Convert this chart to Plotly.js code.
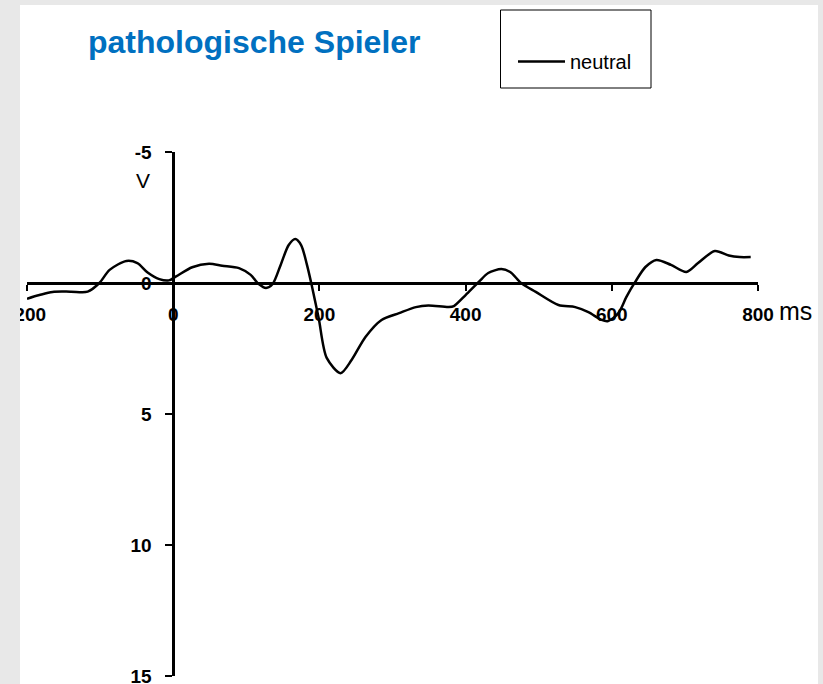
<!DOCTYPE html>
<html>
<head>
<meta charset="utf-8">
<script src="https://cdn.plot.ly/plotly-3.0.1.min.js"></script>
<style>
  html, body { margin: 0; padding: 0; background: #ffffff; }
  #chart { width: 823px; height: 684px; }
</style>
</head>
<body>
<div id="chart"></div>
<script>
// ---- data ----
const seriesName = "neutral";
const timeMs = [-200, -183, -165, -140, -117, -101, -87, -64, -49, -35, -19, -6, 4, 26, 49, 67, 90, 106, 117, 127, 136,
  147, 158, 167, 175, 183, 190, 199, 210, 229, 244, 263, 285, 309, 332, 349, 377, 384, 400, 418, 431, 449, 461, 476,
  496, 527, 550, 568, 586, 595, 609, 620, 632, 646, 661, 681, 702, 718, 741, 760, 775, 790];
const amplitude = [0.60, 0.46, 0.34, 0.33, 0.33, 0.0, -0.50, -0.84, -0.76, -0.40, -0.15, -0.10, -0.25, -0.60, -0.73, -0.66, -0.57, -0.31, 0.04, 0.19, 0.04,
  -0.69, -1.45, -1.68, -1.45, -0.69, 0.15, 1.34, 2.86, 3.44, 2.94, 2.06, 1.41, 1.15, 0.92, 0.86, 0.92, 0.88, 0.46, -0.04, -0.38, -0.53, -0.42, 0.0,
  0.34, 0.84, 0.92, 1.11, 1.41, 1.45, 1.15, 0.53, -0.04, -0.61, -0.88, -0.69, -0.42, -0.76, -1.22, -1.05, -0.99, -0.99];
const xTickVals = [-200, 0, 200, 400, 600, 800];
const xTickText = ["-200", "0", "200", "400", "600", "800"];
const yTickVals = [-5, 0, 5, 10, 15];
const yTickText = ["-5", "0", "5", "10", "15"];
const titleText = "pathologische Spieler";
const xUnit = "ms";
const yUnit = "V";

// ---- layout helpers (pixel -> paper) ----
const W = 823, H = 684;
const M = { l: 27, r: 65, t: 152, b: 8 };
const PW = W - M.l - M.r, PH = H - M.t - M.b;
const px = p => (p - M.l) / PW;
const py = p => (H - M.b - p) / PH;
const FONT = "Liberation Sans, Arial, sans-serif";
const GRAY = "#e8e8e8";

const trace = {
  type: "scatter",
  mode: "lines",
  name: seriesName,
  x: timeMs,
  y: amplitude,
  line: { color: "#000000", width: 2.5, shape: "spline", smoothing: 0.8 },
  hoverinfo: "x+y"
};

const layout = {
  width: W, height: H,
  margin: M,
  paper_bgcolor: "#ffffff",
  plot_bgcolor: "#ffffff",
  font: { family: FONT, color: "#000000" },
  title: {
    text: titleText,
    font: { family: FONT, size: 32, weight: "bold", color: "#0070C0" },
    xref: "paper", x: px(88), xanchor: "left",
    yref: "container", y: 1 - 42 / H, yanchor: "middle"
  },
  xaxis: {
    range: [-200, 800],
    anchor: "free", position: 0.75,
    showline: true, linecolor: "#000000", linewidth: 2.5,
    ticks: "outside", ticklen: 6, tickwidth: 1.5, tickcolor: "#000000",
    tickmode: "array", tickvals: xTickVals, ticktext: xTickText,
    tickfont: { family: FONT, size: 19, weight: "bold", color: "#000000" },
    ticklabelstandoff: 7,
    ticklabeloverflow: "allow",
    showgrid: false, zeroline: false, fixedrange: true
  },
  yaxis: {
    range: [15, -5],
    anchor: "free", position: 0.2,
    showline: true, linecolor: "#000000", linewidth: 2.5,
    ticks: "outside", ticklen: 7, tickwidth: 2, tickcolor: "#000000",
    tickmode: "array", tickvals: yTickVals, ticktext: yTickText,
    tickfont: { family: FONT, size: 19, weight: "bold", color: "#000000" },
    ticklabelstandoff: 10,
    ticklabeloverflow: "allow",
    showgrid: false, zeroline: false, fixedrange: true
  },
  showlegend: true,
  legend: {
    x: px(513), xanchor: "left",
    y: py(42), yanchor: "top",
    bgcolor: "rgba(0,0,0,0)", borderwidth: 0,
    itemwidth: 47,
    font: { family: FONT, size: 20, color: "#000000" }
  },
  annotations: [
    { text: yUnit, xref: "paper", yref: "paper", x: px(143), y: py(181), xanchor: "center", yanchor: "middle",
      showarrow: false, font: { family: FONT, size: 21, color: "#000000" } },
    { text: xUnit, xref: "paper", yref: "paper", x: px(777), y: py(311), xanchor: "left", yanchor: "middle",
      showarrow: false, font: { family: FONT, size: 25, color: "#000000" } }
  ],
  shapes: [
    { type: "rect", xref: "paper", yref: "paper", x0: px(500.5), x1: px(651), y0: py(88), y1: py(10),
      line: { color: "#000000", width: 1 }, fillcolor: "rgba(0,0,0,0)", layer: "above" },
    { type: "rect", xref: "paper", yref: "paper", x0: px(0), x1: px(20), y0: py(H), y1: py(0),
      line: { width: 0 }, fillcolor: GRAY, layer: "above" },
    { type: "rect", xref: "paper", yref: "paper", x0: px(0), x1: px(W), y0: py(5), y1: py(0),
      line: { width: 0 }, fillcolor: GRAY, layer: "above" },
    { type: "rect", xref: "paper", yref: "paper", x0: px(818), x1: px(W), y0: py(H), y1: py(0),
      line: { width: 0 }, fillcolor: GRAY, layer: "above" }
  ]
};

Plotly.newPlot("chart", [trace], layout, { displayModeBar: false, staticPlot: false, responsive: false });
</script>
</body>
</html>
